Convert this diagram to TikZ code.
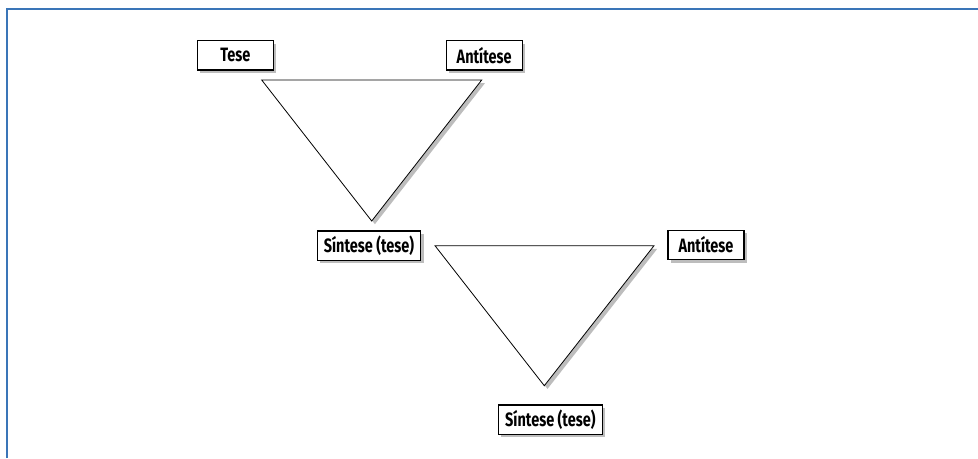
\documentclass[tikz,border=0pt]{standalone}
\usepackage{fontspec}
\newfontfamily\labfont{Fira Sans}[FakeStretch=0.75]
\usepackage{xcolor}
\usepackage{tikz}
\usetikzlibrary{shadows}
\definecolor{frame}{HTML}{3A75B8}
\definecolor{shade}{HTML}{BDBDBD}
\tikzset{
  box/.style={draw=black, fill=white, line width=0.9pt, minimum width=57pt, minimum height=22pt,
    inner xsep=5pt, font=\labfont\bfseries\fontsize{14.5}{16}\selectfont,
    drop shadow={shadow xshift=2.2pt, shadow yshift=-2.2pt, fill=shade, opacity=1}},
  tri/.style={draw=black, fill=white, line width=0.6pt, line join=miter,
    drop shadow={shadow xshift=2.4pt, shadow yshift=-2.4pt, fill=shade, opacity=1}},
  frm/.style={draw=frame, line width=1.2pt},
}

\begin{document}
\begin{tikzpicture}[x=0.75pt, y=-0.75pt]
  \useasboundingbox (0,0) rectangle (978,458);
  \draw[frm] (7,458) -- (7,9) -- (978,9);

  % first triangle
  \coordinate (A1) at (261.7,80);
  \coordinate (B1) at (481.7,80);
  \coordinate (C1) at (371.7,221);
  % second triangle
  \coordinate (A2) at (435,245.7);
  \coordinate (B2) at (654,245.7);
  \coordinate (C2) at (544.3,385.7);

  \draw[tri] (A1) -- (B1) -- (C1) -- cycle;
  \draw[tri] (A2) -- (B2) -- (C2) -- cycle;

  \node[box] (tese)   at (235.3,55.3) {Tese};
  \node[box] (anti1)  at (484.2,55.3) {Antítese};
  \node[box] (sint1)  at (369,245.7)  {Síntese (tese)};
  \node[box] (anti2)  at (706,245)    {Antítese};
  \node[box] (sint2)  at (550.3,419.7) {Síntese (tese)};
\end{tikzpicture}
\end{document}
